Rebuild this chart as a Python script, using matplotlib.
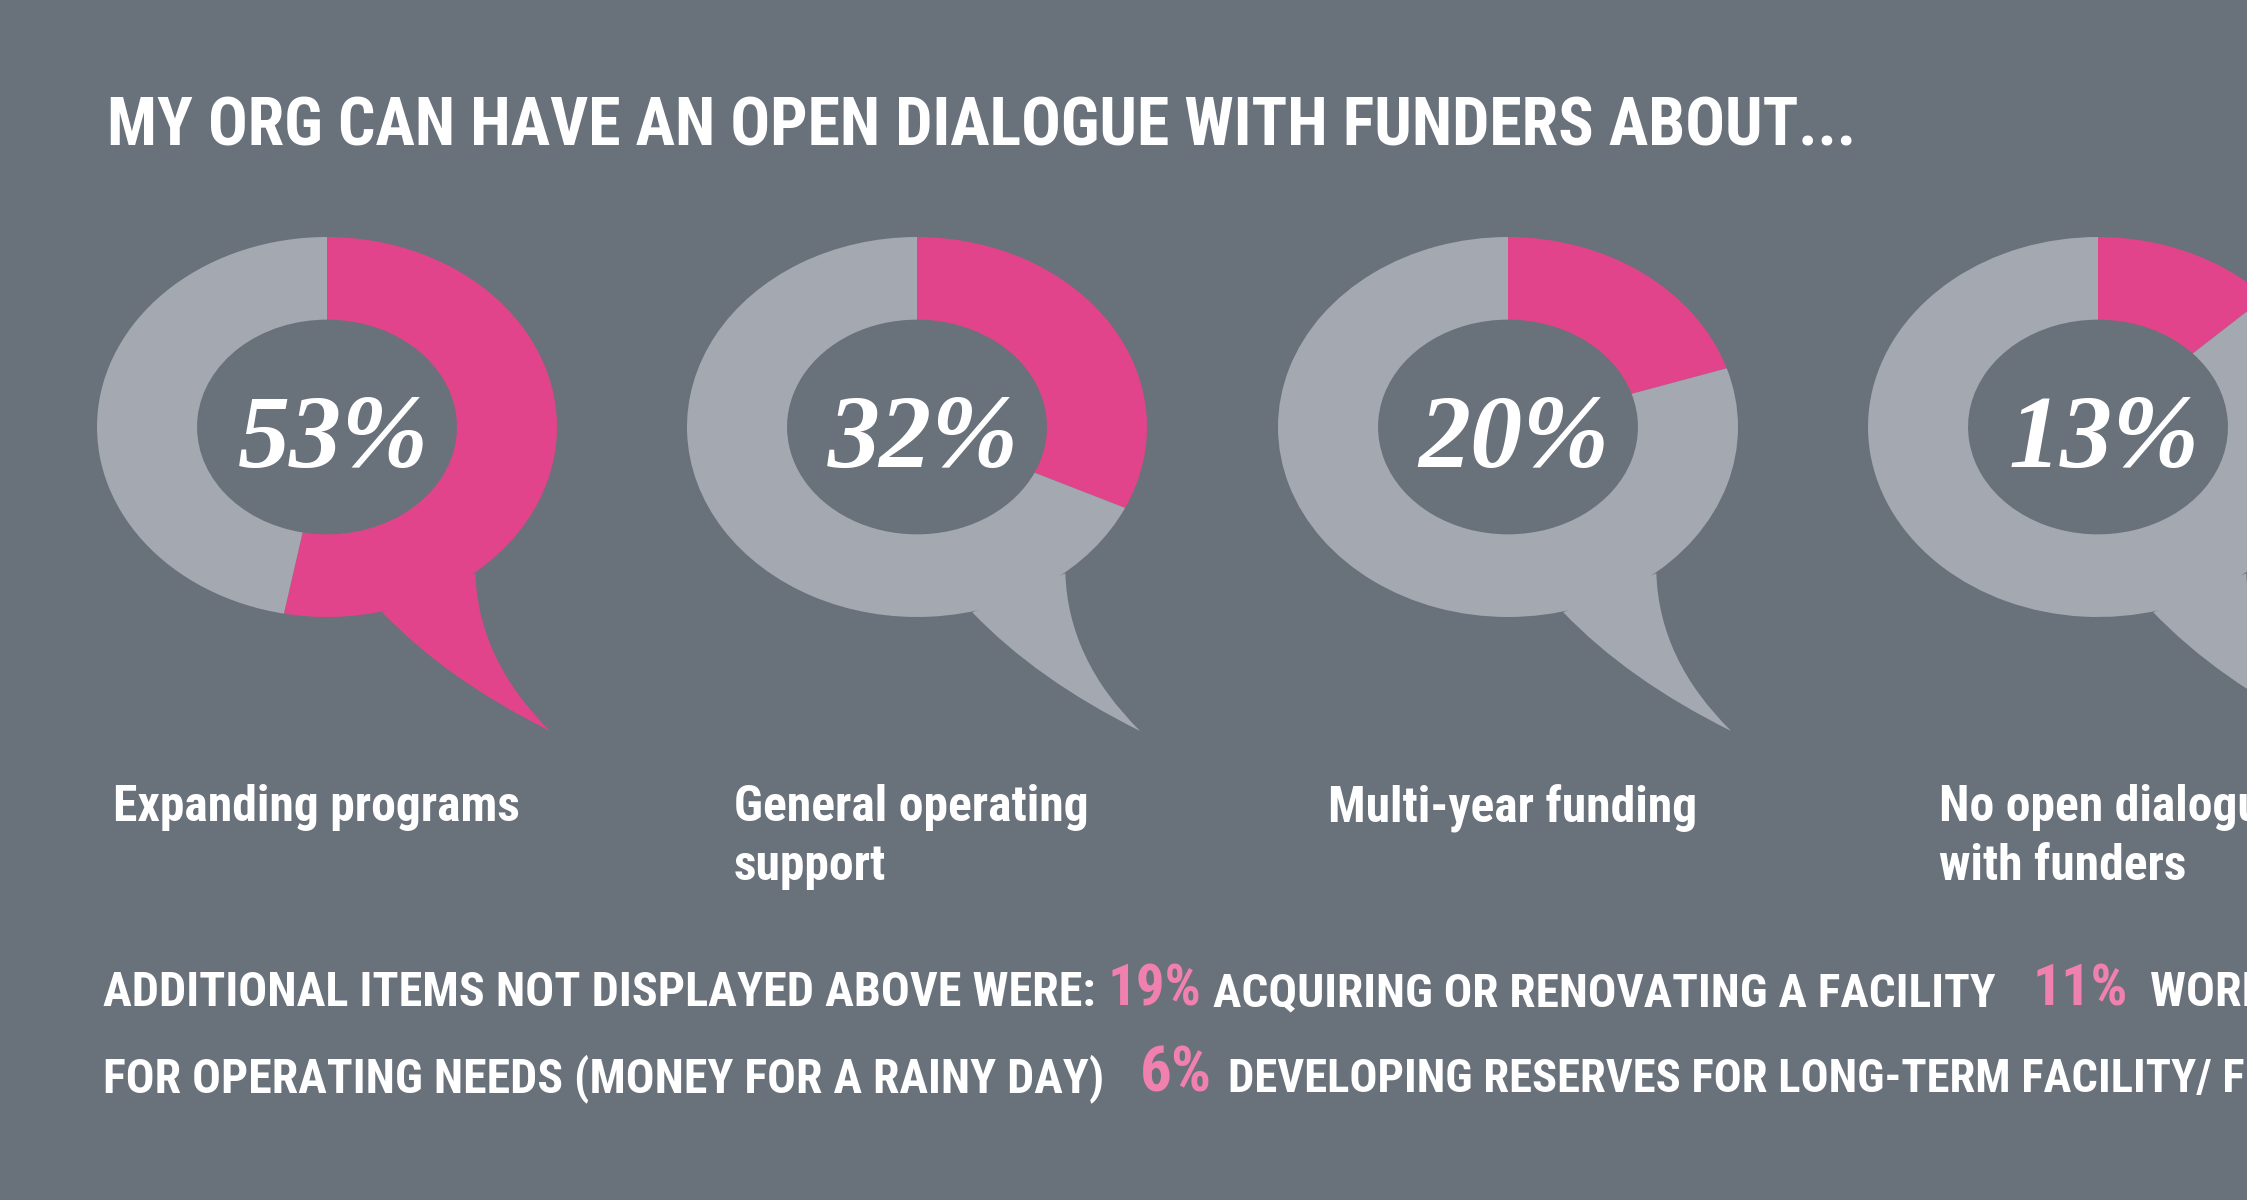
import os
import matplotlib.pyplot as plt
from matplotlib.path import Path
from matplotlib.patches import PathPatch
from matplotlib import font_manager as fm

# === Data ===
title = "MY ORG CAN HAVE AN OPEN DIALOGUE WITH FUNDERS ABOUT..."
categories = ["Expanding programs", "General operating\nsupport",
              "Multi-year funding", "No open dialogue\nwith funders"]
shares = [53, 32, 20, 13]

extra_lead = "ADDITIONAL ITEMS NOT DISPLAYED ABOVE WERE:"
extra_pcts = [19, 11, 6]
extra_items = ["ACQUIRING OR RENOVATING A FACILITY",
               "WORKING CAPITAL",
               "FOR OPERATING NEEDS (MONEY FOR A RAINY DAY)",
               "DEVELOPING RESERVES FOR LONG-TERM FACILITY/ FIXED ASSETS"]

# === Style ===
BG = "#69717b"
GREY = "#a4a8b0"
PINK = "#e1448a"
PINK_TXT = "#f080ae"
W, H = 2247, 1200


# pick a bold condensed face if one is installed
def pick_font():
    files = [f.fname for f in fm.fontManager.ttflist]
    wanted = ["LiberationSansNarrow-Bold.", "RobotoCondensed-Bold.",
              "OpenSans_Condensed-Bold.", "OpenSansCondensed-Bold.",
              "OpenSans-CondBold.", "NotoSans-CondensedBold.",
              "DejaVuSansCondensed-Bold."]
    for key in wanted:
        for fn in files:
            if os.path.basename(fn).startswith(key):
                return fm.FontProperties(fname=fn)
    for fn in files:
        b = os.path.basename(fn)
        if ("Condensed" in b or "Narrow" in b) and "Bold" in b and "Italic" not in b:
            return fm.FontProperties(fname=fn)
    return fm.FontProperties(family="Liberation Sans", weight="bold")


COND = pick_font()

fig = plt.figure(figsize=(W / 100, H / 100), dpi=100, facecolor=BG)
ax = fig.add_axes([0, 0, 1, 1])
ax.set_xlim(0, W)
ax.set_ylim(H, 0)
ax.axis("off")
ax.set_zorder(5)
ax.patch.set_alpha(0)
renderer = fig.canvas.get_renderer()


def fit_text(x, y, s, width, color="white", size=None, measure=None):
    # scale font so the string (or the part given in measure) spans width px
    t = ax.text(x, y, measure or s, fontproperties=COND.copy(), color=color,
                ha="left", va="baseline")
    t.set_fontsize(10)
    if size is None:
        w = t.get_window_extent(renderer).width
        size = 10 * width / w
    t.set_text(s)
    t.set_fontsize(size)
    return size


# === Title ===
fit_text(107, 146, title, 1742)

# === Speech-bubble donuts ===
centers_x = [327, 917, 1508, 2098]
cy, rx, ry = 427, 230, 190
tail = Path([(0.24, -0.975), (0.52, -1.33), (0.97, -1.60),
             (0.657, -1.226), (0.645, -0.77), (0.24, -0.975)],
            [Path.MOVETO, Path.CURVE3, Path.CURVE3,
             Path.CURVE3, Path.CURVE3, Path.CLOSEPOLY])

for share, cx in zip(shares, centers_x):
    bax = fig.add_axes([(cx - rx) / W, 1 - (cy + ry) / H, 2 * rx / W, 2 * ry / H])
    bax.pie([share, 100 - share], colors=[PINK, GREY], startangle=90,
            counterclock=False, radius=1,
            wedgeprops=dict(width=0.435, linewidth=0))
    bax.set_aspect("auto")
    bax.set_xlim(-1, 1)
    bax.set_ylim(-1, 1)
    bax.axis("off")
    tail_color = PINK if share * 3.6 > 155 else GREY
    bax.add_patch(PathPatch(tail, facecolor=tail_color, edgecolor="none",
                            clip_on=False, zorder=0.5))
    ax.text(cx + 6, 467, f"{share}%", fontsize=75, family="Liberation Serif",
            style="italic", weight="bold", color="white",
            ha="center", va="baseline")

# === Category labels ===
label_x = [113, 734, 1328, 1939]
label_size = None
for lx, lab in zip(label_x, categories):
    for k, line in enumerate(lab.split("\n")):
        label_size = fit_text(lx, 821 + 59 * k, line, 407, size=label_size)

# === Additional items ===
s1 = fit_text(103, 1006, extra_lead, 990)
fit_text(1108, 1006, f"{extra_pcts[0]}%", 94, PINK_TXT)
fit_text(1213, 1006, extra_items[0], 779)
fit_text(2033, 1006, f"{extra_pcts[1]}%", 96, PINK_TXT)
fit_text(2150, 1006, extra_items[1], None, size=s1)

fit_text(103, 1092, extra_items[2], 996)
fit_text(1140, 1092, f"{extra_pcts[2]}%", 72, PINK_TXT)
fit_text(1228, 1092, extra_items[3], 981,
         measure="DEVELOPING RESERVES FOR LONG-TERM FACILITY/")

fig.savefig("out.png", dpi=100, facecolor=BG)
